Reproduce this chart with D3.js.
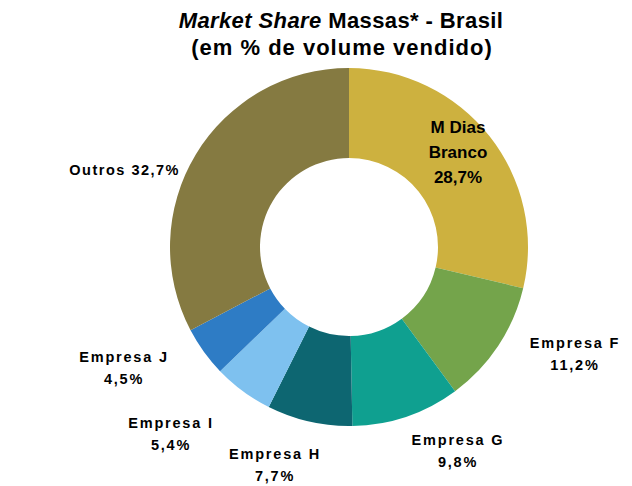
<!DOCTYPE html>
<html><head><meta charset="utf-8">
<script src="https://cdn.jsdelivr.net/npm/d3@7"></script>
<style>body{margin:0;background:#fff}svg{display:block}</style>
</head><body>
<script>
const categories = ["M Dias Branco","Empresa F","Empresa G","Empresa H","Empresa I","Empresa J","Outros"];
const values = [28.7, 11.2, 9.8, 7.7, 5.4, 4.5, 32.7];
const valueLabels = ["28,7%","11,2%","9,8%","7,7%","5,4%","4,5%","32,7%"];
const colors = ["#CDB13F","#74A44B","#0FA090","#0D6671","#7EC1EF","#2E7CC5","#857A41"];

const W=632,H=486, cx=349, cy=247, rOut=179, rIn=89;
const svg=d3.select("body").append("svg").attr("width",W).attr("height",H);

// Title
const t=svg.append("text").attr("x",341).attr("y",28).attr("text-anchor","middle")
 .attr("font-family","Liberation Sans, Arial, sans-serif").attr("font-weight","bold").attr("font-size",22)
 .attr("letter-spacing","0.4px");
t.append("tspan").attr("font-style","italic").text("Market Share");
t.append("tspan").text(" Massas* - Brasil");
svg.append("text").attr("x",342).attr("y",55).attr("text-anchor","middle")
 .attr("font-family","Liberation Sans, Arial, sans-serif").attr("font-weight","bold").attr("font-size",22)
 .attr("letter-spacing","1px")
 .text("(em % de volume vendido)");

const pie=d3.pie().sort(null).value(d=>d)(values);
const arc=d3.arc().innerRadius(rIn).outerRadius(rOut);
const g=svg.append("g").attr("transform",`translate(${cx},${cy})`);
g.selectAll("path").data(pie).join("path").attr("d",arc).attr("fill",(d,i)=>colors[i]);

// Inner label for first slice
const inner=svg.append("text").attr("text-anchor","middle")
 .attr("font-family","Liberation Sans, Arial, sans-serif").attr("font-weight","bold").attr("font-size",17).attr("fill","#000");
[["M Dias",133],["Branco",158],[valueLabels[0],183]].forEach(([s,y])=>{
  inner.append("tspan").attr("x",458).attr("y",y).text(s);
});

// Outside labels: [index, centerX, line1 baseline]
const outPos=[[1,575,348],[2,458,445],[3,275,459],[4,171,428],[5,124,362]];
outPos.forEach(([i,x,y])=>{
  const tx=svg.append("text").attr("text-anchor","middle")
   .attr("font-family","Liberation Sans, Arial, sans-serif").attr("font-weight","bold").attr("font-size",14.5)
   .attr("letter-spacing","1.8px");
  tx.append("tspan").attr("x",x).attr("y",y).text(categories[i]);
  tx.append("tspan").attr("x",x).attr("y",y+22).text(valueLabels[i]);
});
svg.append("text").attr("x",180).attr("y",175).attr("text-anchor","end")
 .attr("font-family","Liberation Sans, Arial, sans-serif").attr("font-weight","bold").attr("font-size",14.5)
 .attr("letter-spacing","1.5px").text(categories[6]+" "+valueLabels[6]);
</script>
</body></html>
